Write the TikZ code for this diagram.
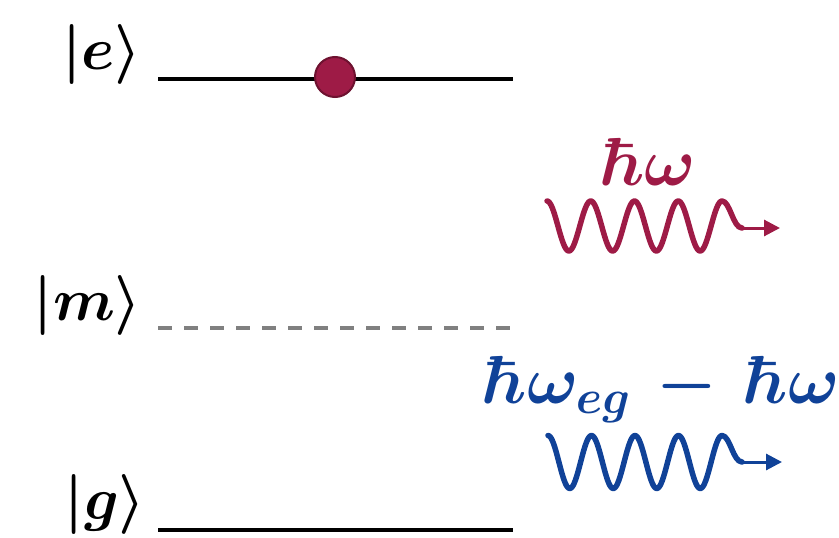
\RequirePackage{fix-cm}
\documentclass[tikz,border=0pt]{standalone}
\usetikzlibrary{arrows.meta}
\definecolor{photonred}{RGB}{158,27,70}
\definecolor{photonblue}{RGB}{16,66,152}
\definecolor{dotedge}{RGB}{110,18,48}
\definecolor{midgray}{RGB}{128,128,128}

\begin{document}
\begin{tikzpicture}[x=1pt,y=-1pt,
  level/.style={line width=4pt},
  virtual/.style={line width=3.5pt, midgray, dash pattern=on 14pt off 12pt},
  ket/.style={anchor=base east, inner sep=0pt, font=\fontsize{60}{70}\selectfont\boldmath},
  energy/.style={anchor=base, inner sep=0pt, font=\fontsize{68}{80}\selectfont\boldmath},
  wave/.style={line width=5.5pt, line cap=round, line join=round},
  ray/.style={line width=3pt, -{Triangle[length=16pt,width=16pt]}}
]
\useasboundingbox (0,0) rectangle (839,538);

% energy levels
\coordinate (e0) at (158,79);  \coordinate (e1) at (513,79);
\coordinate (m0) at (158,328); \coordinate (m1) at (513,328);
\coordinate (g0) at (158,530); \coordinate (g1) at (513,530);
\draw[level] (e0) -- (e1);
\draw[virtual] (m0) -- (m1);
\draw[level] (g0) -- (g1);

% level labels
\node[ket] (ke) at (142,69)  {$|e\rangle$};
\node[ket] (km) at (142,320) {$|m\rangle$};
\node[ket] (kg) at (146,519) {$|g\rangle$};

% excited electron
\node[circle, fill=photonred, draw=dotedge, line width=2pt,
      minimum size=40pt, inner sep=0pt] (electron) at (335,77) {};

% emitted photon  \hbar\omega  (period 43.75pt -> 8.22857 deg per pt)
\node[energy, text=photonred] (hw) at (648,185) {$\hbar\omega$};
\begin{scope}[shift={(547,226)}]
  \draw[wave, photonred] plot[domain=0:175, samples=161] (\x, {-25*cos(8.22857*\x)})
     .. controls (183,-25) and (186,2) .. (195,2);
  \coordinate (rw) at (195,2);
  \coordinate (rt) at (233,2);
\end{scope}
\draw[ray, photonred] (rw) -- (rt);

% emitted photon  \hbar\omega_{eg}-\hbar\omega  (period 43.5pt)
\node[energy, text=photonblue] (hwe) at (661,403)
  {$\hbar\omega_{eg}\mkern2mu-\mkern2mu\hbar\omega$};
\begin{scope}[shift={(548,462)}]
  \draw[wave, photonblue] plot[domain=0:174, samples=161] (\x, {-26.5*cos(8.27586*\x)})
     .. controls (182,-26.5) and (185,0) .. (194,0);
  \coordinate (bw) at (194,0);
  \coordinate (bt) at (234,0);
\end{scope}
\draw[ray, photonblue] (bw) -- (bt);
\end{tikzpicture}
\end{document}
